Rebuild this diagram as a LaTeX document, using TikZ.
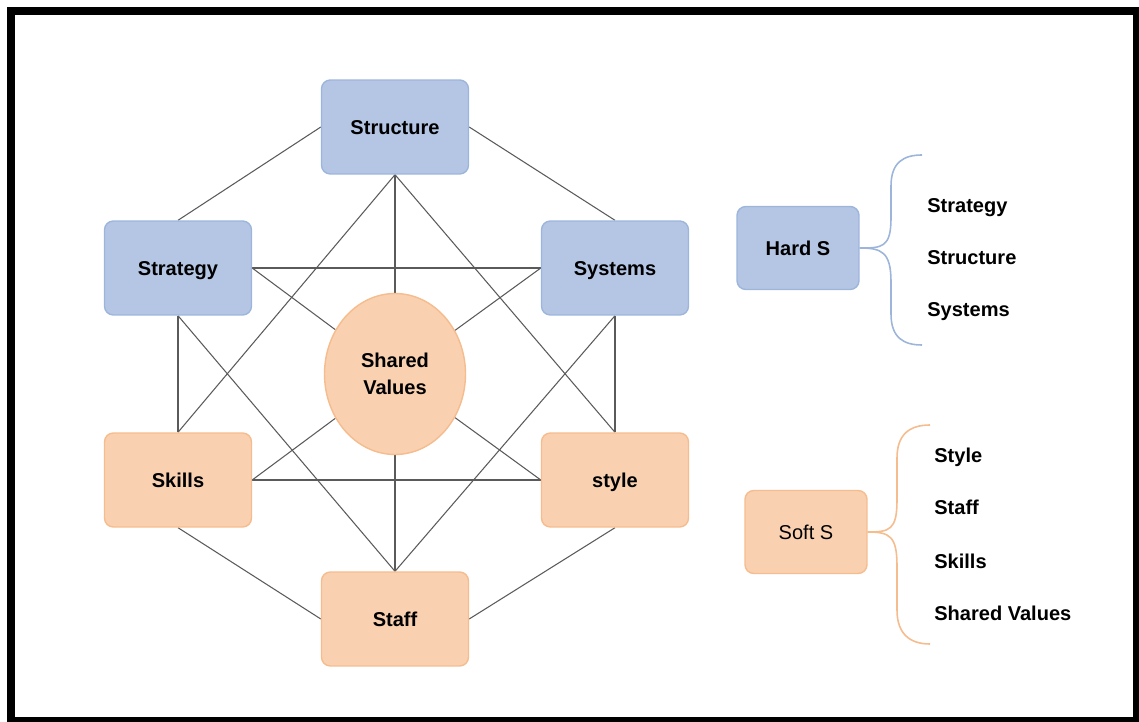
\documentclass[tikz,border=0pt]{standalone}
\usepackage{fontspec}
\setmainfont{Liberation Sans}
\usetikzlibrary{shapes.geometric, backgrounds}
\definecolor{hfill}{HTML}{B4C6E4}
\definecolor{hdraw}{HTML}{9DB5DB}
\definecolor{sfill}{HTML}{F9D1B1}
\definecolor{sdraw}{HTML}{F5BC8E}
\definecolor{slink}{HTML}{5A5A5A}
\tikzset{
  x=0.02cm, y=-0.02cm,
  font=\fontsize{11.4}{15}\selectfont,
  sbox/.style={
    draw=#1draw, fill=#1fill, line width=0.8pt, rounded corners=5pt,
    minimum width=2.94cm, minimum height=1.88cm, inner sep=2pt,
    text height=8.2pt, text depth=0pt,
    font=\fontsize{11.4}{15}\selectfont\bfseries
  },
  sbox/.default=h,
  keybox/.style={
    sbox=#1, minimum width=2.44cm, minimum height=1.66cm
  },
  link/.style={draw=slink, line width=0.6pt},
  brace/.style={draw=#1draw, line width=0.9pt},
  item/.style={anchor=base west, inner sep=0pt, font=\fontsize{11.4}{15}\selectfont\bfseries}
}
\begin{document}
\begin{tikzpicture}
  \useasboundingbox (0,0) rectangle (1139,722);
  \draw[line width=4.7pt] (11,11) rectangle (1137,721);
  % the seven S
  \node[sbox] (structure) at (395,127) {Structure};
  \node[sbox] (strategy) at (178,268) {Strategy};
  \node[sbox] (systems) at (615,268) {Systems};
  \node[sbox=s] (skills) at (178,480) {Skills};
  \node[sbox=s] (style) at (615,480) {style};
  \node[sbox=s] (staff) at (395,619) {Staff};
  \node[ellipse, draw=sdraw, fill=sfill, line width=0.8pt, inner sep=0pt,
        minimum width=2.82cm, minimum height=3.22cm, align=center,
        font=\fontsize{11.4}{15.3}\selectfont\bfseries] (sv) at (395,374) {Shared\\Values};
  \begin{scope}[on background layer]
    \foreach \a/\b in {strategy.north/structure.west, structure.east/systems.north,
                       strategy.south/skills.north, systems.south/style.north,
                       skills.south/staff.west, style.south/staff.east,
                       strategy.east/systems.west, skills.east/style.west,
                       structure.south/skills.north, structure.south/style.north,
                       staff.north/strategy.south, staff.north/systems.south,
                       structure.south/sv, sv/staff.north,
                       strategy.east/sv, sv/style.west,
                       systems.west/sv, sv/skills.east}
      \draw[link] (\a) -- (\b);
  \end{scope}
  % hard S
  \node[keybox] (hard) at (798,248) {Hard S};
  \coordinate (htop) at (922,155);
  \coordinate (hbot) at (922,345);
  \draw[brace=h] (hard.east) .. controls +(22,0) and +(0,30) .. (891,218) -- (891,186)
    .. controls +(0,-24) and +(-18,0) .. (htop);
  \draw[brace=h] (hard.east) .. controls +(22,0) and +(0,-30) .. (891,282) -- (891,314)
    .. controls +(0,24) and +(-18,0) .. (hbot);
  \node[item] (h1) at (927,213) {Strategy};
  \node[item] (h2) at (927,265) {Structure};
  \node[item] (h3) at (927,317) {Systems};
  % soft S
  \node[keybox=s, font=\fontsize{11.4}{15}\selectfont] (soft) at (806,532) {Soft S};
  \coordinate (stop) at (930,425);
  \coordinate (sbot) at (930,644);
  \draw[brace=s] (soft.east) .. controls +(22,0) and +(0,30) .. (897,500) -- (897,458)
    .. controls +(0,-24) and +(-20,0) .. (stop);
  \draw[brace=s] (soft.east) .. controls +(22,0) and +(0,-30) .. (897,566) -- (897,610)
    .. controls +(0,24) and +(-20,0) .. (sbot);
  \node[item] (s1) at (934,463) {Style};
  \node[item] (s2) at (934,515) {Staff};
  \node[item] (s3) at (934,568) {Skills};
  \node[item] (s4) at (934,620) {Shared Values};
\end{tikzpicture}
\end{document}
